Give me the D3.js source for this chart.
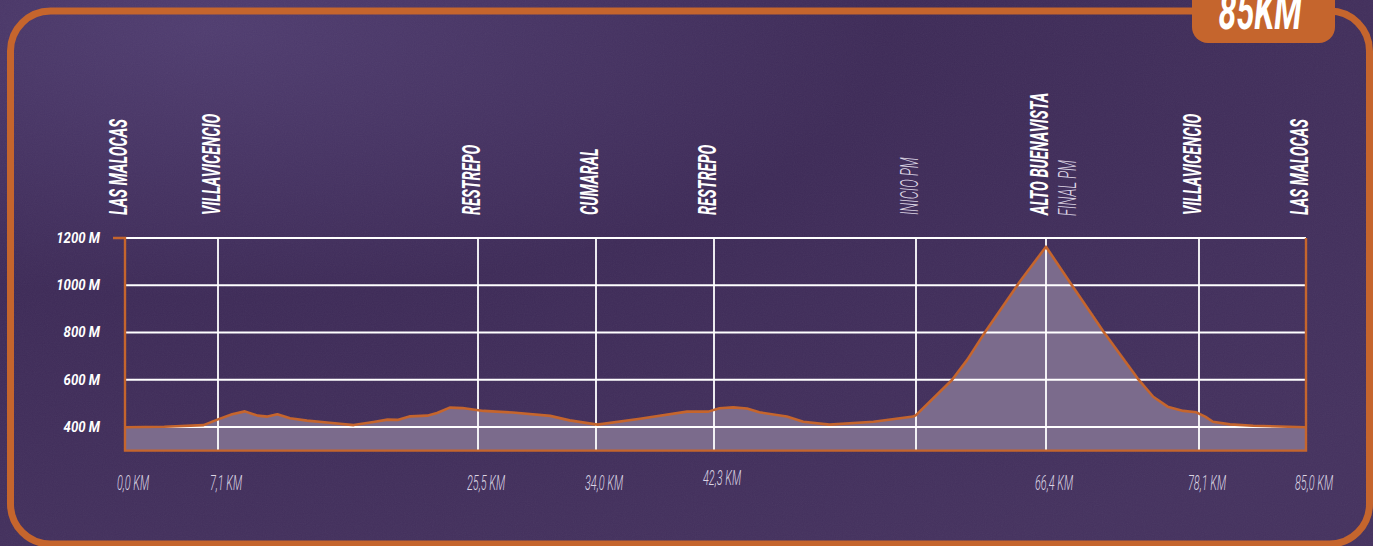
<!DOCTYPE html>
<html>
<head>
<meta charset="utf-8">
<script src="https://cdn.jsdelivr.net/npm/d3@7/dist/d3.min.js"></script>
<style>
  html, body { margin: 0; padding: 0; background: #3e2b57; overflow: hidden; }
  text { font-family: Roboto, "DejaVu Sans", sans-serif; font-style: italic; }
</style>
</head>
<body>
<div id="chart"></div>
<script>
// Perfil de altimetría 85 km

// Puntos de control del recorrido (km)
const stopKm = [0, 7.1, 25.5, 34.0, 42.3, 57.0, 66.4, 78.1, 85.0];
const stopLabels = ["LAS MALOCAS", "VILLAVICENCIO", "RESTREPO", "CUMARAL", "RESTREPO",
                    "INICIO PM", "ALTO BUENAVISTA", "VILLAVICENCIO", "LAS MALOCAS"];
const stopSubLabels = ["", "", "", "", "", "", "FINAL PM", "", ""];
const stopThin = [false, false, false, false, false, true, false, false, false];

// Etiquetas del eje de distancia
const kmTicks = [0, 7.1, 25.5, 34.0, 42.3, 66.4, 78.1, 85.0];
const kmTickLabels = ["0,0 KM", "7,1 KM", "25,5 KM", "34,0 KM", "42,3 KM", "66,4 KM", "78,1 KM", "85,0 KM"];

// Eje de altura
const elevTicks = [400, 600, 800, 1000, 1200];
const elevTickLabels = ["400 M", "600 M", "800 M", "1000 M", "1200 M"];

// Perfil (km, metros)
const profileKm = [0, 3.0, 6.0, 7.0, 8.1, 9.0, 9.9, 10.6, 11.3, 12.2, 13.4, 15.0, 16.7, 18.1, 19.1,
  19.8, 20.7, 21.9, 22.6, 23.5, 24.4, 25.9, 28.0, 30.7, 32.1, 34.1, 37.1, 40.4, 41.9, 42.7,
  43.7, 44.7, 45.6, 47.6, 48.8, 50.7, 53.9, 56.8, 57.0, 59.6, 60.7, 62.1, 64.5, 66.4, 68.2,
  70.8, 73.4, 74.6, 75.7, 76.9, 77.9, 78.5, 79.0, 80.1, 81.6, 85.0];
const profileElev = [399, 401, 408, 430, 454, 466, 448, 444, 454, 437, 427, 418, 408, 421, 431,
  430, 445, 448, 459, 482, 480, 468, 461, 447, 428, 410, 435, 465, 465, 479,
  483, 478, 462, 444, 422, 410, 422, 444, 450, 599, 684, 811, 1015, 1163, 1015,
  803, 606, 528, 486, 468, 462, 444, 422, 411, 405, 399];

const badgeText = "85KM";

const W = 1373, H = 546;
const orange = "#c5652d";

const svg = d3.select("#chart").append("svg")
  .attr("width", W)
  .attr("height", H);

// Fondo con degradado y algo de ruido
const defs = svg.append("defs");
const bg = defs.append("radialGradient")
  .attr("id", "bg")
  .attr("cx", "0.15").attr("cy", "0.05").attr("r", "1.1");
bg.append("stop").attr("offset", "0").attr("stop-color", "#503d70");
bg.append("stop").attr("offset", "0.45").attr("stop-color", "#3e2b58");
bg.append("stop").attr("offset", "1").attr("stop-color", "#45325f");

const noise = defs.append("filter").attr("id", "noise");
noise.append("feTurbulence")
  .attr("type", "fractalNoise")
  .attr("baseFrequency", 0.9)
  .attr("numOctaves", 2)
  .attr("seed", 3);
noise.append("feColorMatrix")
  .attr("type", "saturate").attr("values", 0);

svg.append("rect").attr("width", W).attr("height", H).attr("fill", "url(#bg)");
svg.append("rect").attr("width", W).attr("height", H)
  .attr("filter", "url(#noise)").attr("opacity", 0.05);

// Marco redondeado naranja
svg.append("rect")
  .attr("x", 10.5).attr("y", 11)
  .attr("width", 1359).attr("height", 533)
  .attr("rx", 40).attr("ry", 40)
  .attr("fill", "none")
  .attr("stroke", orange)
  .attr("stroke-width", 7);

// Insignia de distancia (el texto queda cortado arriba, como en el original)
svg.append("rect")
  .attr("x", 1192).attr("y", -30)
  .attr("width", 143).attr("height", 73)
  .attr("rx", 16).attr("ry", 16)
  .attr("fill", orange);
svg.append("text")
  .attr("transform", "translate(1260,29) scale(0.62,1)")
  .attr("text-anchor", "middle")
  .attr("font-size", 52)
  .attr("font-weight", 700)
  .attr("fill", "#fff")
  .text(badgeText);

// Escalas
const plotLeft = 125, plotRight = 1306, plotTop = 238;
// la distancia del dibujo no es lineal: cada tramo tiene su propio ancho
const x = d3.scaleLinear()
  .domain(stopKm)
  .range([plotLeft, 218, 478, 596, 714, 916, 1046, 1199, plotRight]);
const y = d3.scaleLinear()
  .domain([300, 1200])
  .range([450.6, plotTop]);
const yBottom = y(300);

// Área del perfil
const area = d3.area()
  .x(d => x(d[0]))
  .y0(yBottom)
  .y1(d => y(d[1]));
const line = d3.line()
  .x(d => x(d[0]))
  .y(d => y(d[1]));
const profile = profileKm.map((k, i) => [k, profileElev[i]]);

svg.append("path")
  .datum(profile)
  .attr("d", area)
  .attr("fill", "#7b6b8c");

// Rejilla blanca
const grid = svg.append("g")
  .attr("stroke", "#fff")
  .attr("stroke-width", 1.8);
grid.selectAll("line.h")
  .data(elevTicks)
  .join("line")
  .attr("class", "h")
  .attr("x1", plotLeft).attr("x2", plotRight)
  .attr("y1", d => y(d)).attr("y2", d => y(d));
grid.selectAll("line.v")
  .data(stopKm.slice(1, -1))
  .join("line")
  .attr("class", "v")
  .attr("x1", d => x(d)).attr("x2", d => x(d))
  .attr("y1", plotTop).attr("y2", yBottom);

// Línea del perfil
svg.append("path")
  .datum(profile)
  .attr("d", line)
  .attr("fill", "none")
  .attr("stroke", orange)
  .attr("stroke-width", 2.6)
  .attr("stroke-linejoin", "round");

// Ejes naranjas (izquierda, abajo, derecha)
const frame = svg.append("g")
  .attr("stroke", orange)
  .attr("stroke-width", 2.4)
  .attr("fill", "none");
frame.append("path")
  .attr("d", `M${plotLeft - 12},${plotTop}H${plotLeft}V${yBottom}H${plotRight}V${plotTop}`);

// Etiquetas de altura
svg.append("g")
  .selectAll("text")
  .data(elevTicks)
  .join("text")
  .attr("transform", d => `translate(100,${y(d) + 5}) scale(0.88,1)`)
  .attr("text-anchor", "end")
  .attr("font-size", 15)
  .attr("font-weight", 700)
  .attr("fill", "#fff")
  .text((d, i) => elevTickLabels[i]);

// Etiquetas de distancia
svg.append("g")
  .selectAll("text")
  .data(kmTicks)
  .join("text")
  .attr("transform", d => `translate(${x(d) + 8},${d === 42.3 ? 485 : 490}) scale(0.52,1)`)
  .attr("text-anchor", "middle")
  .attr("font-size", 21)
  .attr("font-weight", 300)
  .attr("fill", "#dcd5e4")
  .text((d, i) => kmTickLabels[i]);

// Nombres de los puntos de control, en vertical
const stops = svg.append("g")
  .selectAll("g")
  .data(stopKm)
  .join("g");

stops.append("text")
  .attr("transform", (d, i) => `translate(${x(d) + 2},215) rotate(-90) scale(${stopThin[i] ? 0.5 : 0.56},1)`)
  .attr("font-size", 26)
  .attr("font-weight", (d, i) => stopThin[i] ? 300 : 700)
  .attr("fill", (d, i) => stopThin[i] ? "#dcd5e4" : "#fff")
  .text((d, i) => stopLabels[i]);

stops.filter((d, i) => stopSubLabels[i] !== "")
  .append("text")
  .attr("transform", d => `translate(${x(d) + 30},216) rotate(-90) scale(0.5,1)`)
  .attr("font-size", 26)
  .attr("font-weight", 300)
  .attr("fill", "#dcd5e4")
  .text(d => stopSubLabels[stopKm.indexOf(d)]);
</script>
</body>
</html>
